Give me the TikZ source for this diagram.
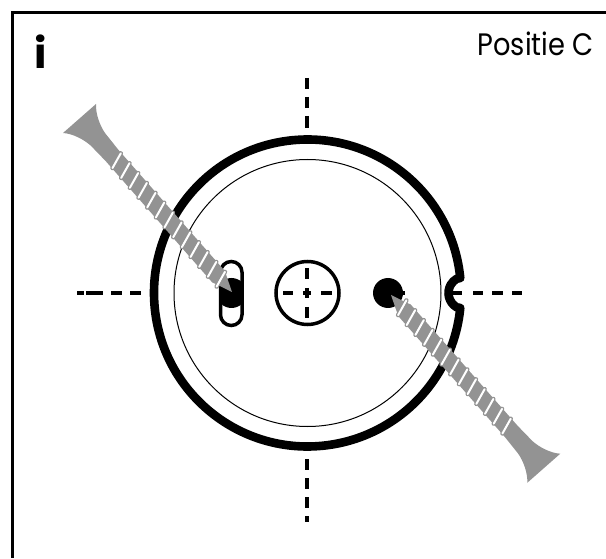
\documentclass[tikz,border=0pt]{standalone}
\usepackage{fontspec}
\setsansfont{Poppins}
\newfontfamily\posfont[FakeStretch=0.88]{Poppins}
\definecolor{screwgray}{HTML}{939393}
\begin{document}
\begin{tikzpicture}[x=1pt,y=1pt,
  font=\sffamily,
  frameline/.style={draw,line width=3.2pt},
  ringline/.style={draw,line width=8.6pt,line join=round},
  thinline/.style={draw,line width=1pt},
  markline/.style={draw,line width=3.5pt},
  dashline/.style={draw,line width=3.6pt},
  thread/.style={line width=4.4pt,screwgray,line cap=round},
  threadtop/.style={line width=2pt,white,line cap=round}]

    \useasboundingbox (0,0) rectangle (606,558);
    \coordinate (hub) at (307.5,265);

%draw frame and texts
    \draw[frameline] (606,545.5) -- (12.5,545.5) -- (12.5,0);
    \node[anchor=base,inner sep=0pt,font=\sffamily\bfseries\fontsize{42}{42}\selectfont] (infomark) at (41,489) {i};
    \node[anchor=base east,inner sep=0pt,font=\posfont\fontsize{31}{31}\selectfont] (poslabel) at (594,502) {Positie C};

%draw ring with notch
    \draw[ringline] (hub) ++(5.6:153.5) arc[start angle=5.6,end angle=354.4,radius=153.5]
       -- (456.75,250.7) arc[start angle=240,end angle=120,radius=16.5] -- cycle;
    \draw[thinline] (hub) circle[radius=133.5];
    \draw[markline] (hub) circle[radius=31.5];

%draw dashes
    \foreach \xa/\xb in {77/84,86/103,111/122,130/141,283/293,303/311,321/332,394/405,453/462,473/483,492/503,512/522}
    \draw[dashline] (\xa,265) -- (\xb,265);
    \foreach \ya/\yb in {78/89,97/108,116/128,268/279,288/298,307/318,459/470,478/489,497/508,516/522}
    \draw[dashline] (307,558-\ya) -- (307,558-\yb);

%draw slot and dots
    \fill (388,265) circle[radius=15];
    \begin{scope}
      \clip[rounded corners=10.75pt] (220.5,232.5) rectangle (242,296.5);
      \fill (231.5,265) circle[radius=15];
    \end{scope}
    \draw[markline,rounded corners=10.75pt] (220.5,232.5) rectangle (242,296.5);

%draw screws
  \foreach \tipx/\tipy/\ang in {232/266/131.3,391/263/-48.6} {
    \begin{scope}[shift={(\tipx,\tipy)},rotate=\ang]
      \fill[screwgray] (0,0) -- (17,-7) -- (20,-8.5) -- (182,-8.5) -- (203,-9.5)
         .. controls (212,-10.5) and (224,-15) .. (231,-22) -- (231,22)
         .. controls (224,15) and (212,10.5) .. (203,9.5) -- (182,8.5) -- (20,8.5) -- (17,7) -- cycle;
      \foreach \u in {17,30.15,...,176} {
        \draw[thread] (\u+2.8,-8) -- (\u-2.8,8);
        \draw[threadtop] (\u+2.8,-8) -- (\u-2.8,8); }
    \end{scope} }

\end{tikzpicture}
\end{document}
